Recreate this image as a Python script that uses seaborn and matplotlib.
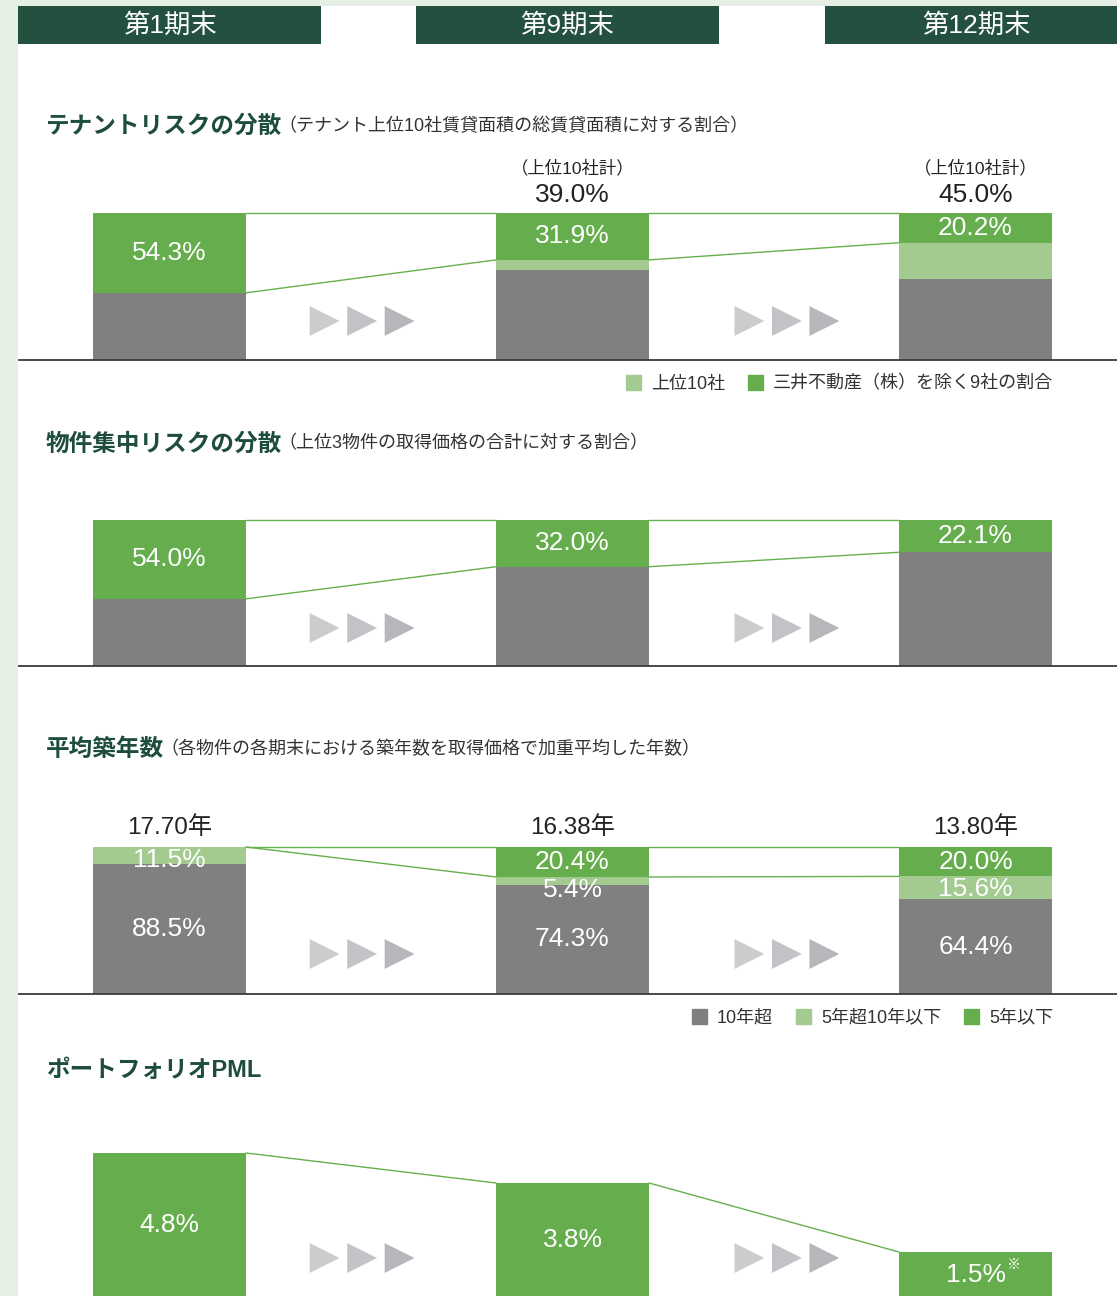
import numpy as np
import pandas as pd
import seaborn as sns
import matplotlib.pyplot as plt
from matplotlib.patches import Rectangle, Patch

# ---- data ----
periods = ['第1期末', '第9期末', '第12期末']

# tenant risk (% of total leased area)
tenant_top10 = [54.3, 39.0, 45.0]
tenant_9co = [54.3, 31.9, 20.2]

# property concentration (% of acquisition price, top 3 properties)
prop_top3 = [54.0, 32.0, 22.1]

# average building age
age_labels = ['17.70年', '16.38年', '13.80年']
age_over10 = [88.5, 74.3, 64.4]
age_5to10 = [11.5, 5.4, 15.6]
age_under5 = [0.0, 20.4, 20.0]

# portfolio PML (%)
pml = [4.8, 3.8, 1.5]

# ---- style ----
GREEN = '#66ae4d'
LIGHT = '#a3ca8f'
GRAY = '#808080'
DARK = '#24513f'
BG = '#e5efe3'
TXT = '#222222'
LINE_G = '#66b04c'

sns.set_theme(style='white')
plt.rcParams['font.family'] = ['Liberation Sans', 'Noto Sans CJK JP', 'DejaVu Sans']

W, H = 1117, 1296
X0, STEP = 169.5, 403.0      # pixel centre of first bar, spacing between bars
BAR_W = 153 / STEP
PT = 0.72                    # px -> pt at dpi 100

fig = plt.figure(figsize=(W / 100, H / 100), dpi=100)
fig.patch.set_facecolor('white')


def panel(top, base, scale, y0=0.0):
    ax = fig.add_axes([18 / W, 1 - base / H, (W - 18) / W, (base - top) / H])
    ax.set_ylim(y0, y0 + (base - top) / scale)
    return ax


def finish(ax):
    ax.set_xlim((18 - X0) / STEP, (W - X0) / STEP)
    ax.set_axis_off()


def stacked(ax, segs, colors, scale, labelled):
    segs = np.array(segs, dtype=float)
    tops = np.cumsum(segs, axis=0)
    for k in range(len(segs) - 1, -1, -1):
        sns.barplot(x=periods, y=tops[k], color=colors[k], width=BAR_W,
                    saturation=1, linewidth=0, errorbar=None, ax=ax)
    off = 13 / scale
    for k in labelled:
        for i in range(len(periods)):
            v = segs[k][i]
            if v <= 0:
                continue
            top = tops[k][i]
            y = min(top - v / 2, top - off)
            ax.text(i, y, f'{v:.1f}%', ha='center', va='center',
                    color='white', fontsize=19)
    # connector lines
    upper = segs[-1]
    for i in range(len(periods) - 1):
        xa, xb = i + BAR_W / 2, i + 1 - BAR_W / 2
        ax.plot([xa, xb], [100, 100], color=LINE_G, lw=1.0)
        ax.plot([xa, xb], [100 - upper[i], 100 - upper[i + 1]], color=LINE_G, lw=1.0)
    ax.axhline(0, color='#3a3a3a', lw=1.3, clip_on=False)


def arrows(ax, y):
    for c in [0.478, 1.532]:
        xs = [c - 0.093, c, c + 0.093]
        ax.scatter(xs, [y] * 3, marker='>', s=21.5 ** 2,
                   c=['#cbcccd', '#c2c3c6', '#b6b7bb'], linewidths=0, zorder=3)


# ---- panel 1: tenant risk ----
s1 = 1.47
ax1 = panel(140, 360, s1)
gray1 = [100 - t for t in tenant_top10]
light1 = [t - n for t, n in zip(tenant_top10, tenant_9co)]
stacked(ax1, [gray1, light1, tenant_9co], [GRAY, LIGHT, GREEN], s1, labelled=[2])
for i in [1, 2]:
    ax1.annotate(f'{tenant_top10[i]:.1f}%', xy=(i, 100), xytext=(0, 18 * PT),
                 textcoords='offset points', ha='center', va='center',
                 fontsize=19, color=TXT)
    ax1.annotate('（上位10社計）', xy=(i, 100), xytext=(0, 45 * PT),
                 textcoords='offset points', ha='center', va='center',
                 fontsize=12.5, color=TXT)
arrows(ax1, 39 / s1)
finish(ax1)

# ---- panel 2: property concentration ----
s2 = 1.46
ax2 = panel(480, 666, s2)
rest2 = [100 - v for v in prop_top3]
stacked(ax2, [rest2, prop_top3], [GRAY, GREEN], s2, labelled=[1])
arrows(ax2, 38 / s2)
finish(ax2)

# ---- panel 3: building age ----
s3 = 1.47
ax3 = panel(800, 994, s3)
stacked(ax3, [age_over10, age_5to10, age_under5], [GRAY, LIGHT, GREEN], s3,
        labelled=[0, 1, 2])
for i, lab in enumerate(age_labels):
    ax3.annotate(lab, xy=(i, 100), xytext=(0, 19 * PT), textcoords='offset points',
                 ha='center', va='center', fontsize=17.5, color=TXT)
arrows(ax3, 40 / s3)
finish(ax3)

# ---- panel 4: PML ----
s4 = 30.0
ax4 = panel(1100, 1296, s4, y0=1 / s4)
sns.barplot(x=periods, y=pml, color=GREEN, width=BAR_W, saturation=1,
            linewidth=0, errorbar=None, ax=ax4)
for i in range(len(periods) - 1):
    ax4.plot([i + BAR_W / 2, i + 1 - BAR_W / 2], [pml[i], pml[i + 1]], color=LINE_G, lw=1.0)
for i, v in enumerate(pml):
    t = ax4.text(i, v / 2, f'{v:.1f}%', ha='center', va='center', color='white', fontsize=19)
    if i == 2:
        ax4.annotate('※', xy=(1, 1), xycoords=t, xytext=(1, 3), textcoords='offset points',
                     ha='left', va='top', color='white', fontsize=10)
arrows(ax4, 1.3)
finish(ax4)

# ---- overlay: background, headers, titles, legends ----
ov = fig.add_axes([0, 0, 1, 1])
ov.set_xlim(0, W)
ov.set_ylim(H, 0)
ov.set_axis_off()
ov.add_patch(Rectangle((0, 0), 18, H, color=BG, lw=0))
ov.add_patch(Rectangle((0, 0), W, 6, color=BG, lw=0))
for left, name in zip([18, 416, 825], periods):
    ov.add_patch(Rectangle((left, 6), 303, 38, color=DARK, lw=0))
    ov.text(left + 151.5, 25.5, name, ha='center', va='center', color='white', fontsize=19)

titles = [
    (126, 'テナントリスクの分散', '（テナント上位10社賃貸面積の総賃貸面積に対する割合）'),
    (444, '物件集中リスクの分散', '（上位3物件の取得価格の合計に対する割合）'),
    (749, '平均築年数', '（各物件の各期末における築年数を取得価格で加重平均した年数）'),
    (1070, 'ポートフォリオPML', ''),
]
for y, main, sub in titles:
    t = ov.text(46, y, main, ha='left', va='center', fontsize=17,
                fontweight='bold', color='#1f4d3c')
    if sub:
        ov.annotate(sub, xy=(1, 0.5), xycoords=t, xytext=(-3, 0), textcoords='offset points',
                    ha='left', va='center', fontsize=13, color='#333333')

leg_kw = dict(frameon=False, fontsize=13, handlelength=0.85, handleheight=0.85,
              handletextpad=0.55, columnspacing=1.25, borderpad=0, borderaxespad=0,
              loc='center right', labelcolor='#333333')
fig.legend(handles=[Patch(color=LIGHT), Patch(color=GREEN)],
           labels=['上位10社', '三井不動産（株）を除く9社の割合'],
           bbox_to_anchor=(1053 / W, 1 - 384 / H), ncol=2, **leg_kw)
fig.legend(handles=[Patch(color=GRAY), Patch(color=LIGHT), Patch(color=GREEN)],
           labels=['10年超', '5年超10年以下', '5年以下'],
           bbox_to_anchor=(1053 / W, 1 - 1018 / H), ncol=3, **leg_kw)

fig.savefig('out.png', dpi=100)
